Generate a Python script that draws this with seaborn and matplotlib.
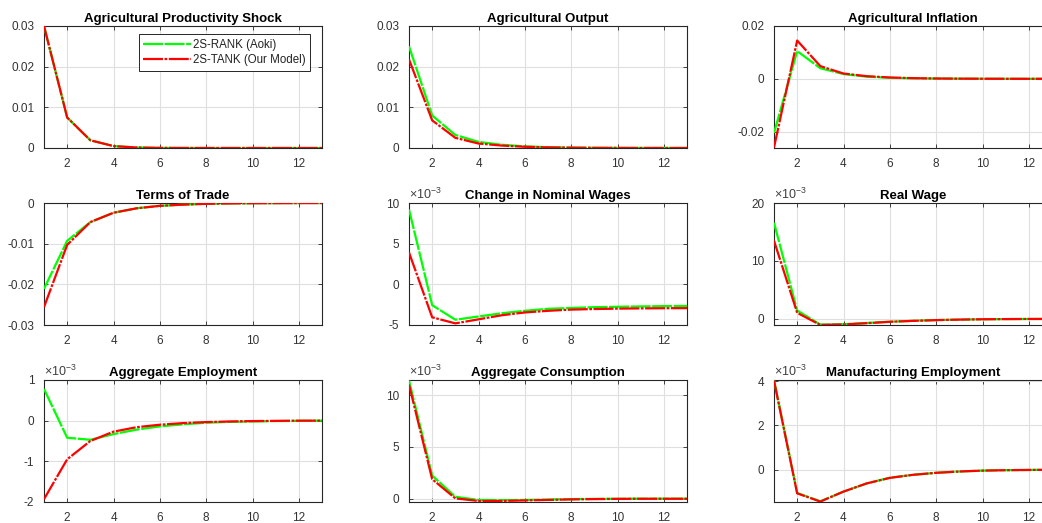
import matplotlib
matplotlib.use("Agg")
import matplotlib.pyplot as plt
import seaborn as sns
import pandas as pd
from matplotlib.ticker import FuncFormatter, FixedLocator

# ---------------- data ----------------
periods = list(range(1, 14))
series_names = ["2S-RANK (Aoki)", "2S-TANK (Our Model)"]

shock_rank = [0.0300, 0.0075, 0.0019, 0.00047, 0.00012, 0.00003, 0.00001, 0, 0, 0, 0, 0, 0]
shock_tank = [0.0300, 0.0075, 0.0019, 0.00047, 0.00012, 0.00003, 0.00001, 0, 0, 0, 0, 0, 0]

agout_rank = [0.0250, 0.0080, 0.0032, 0.0015, 0.0008, 0.0004, 0.0002, 0.0001, 0.00005, 0.00003, 0.00002, 0.00001, 0.00001]
agout_tank = [0.0218, 0.0068, 0.0025, 0.0011, 0.0006, 0.0003, 0.00015, 0.00008, 0.00004, 0.00002, 0.00001, 0.00001, 0.0]

infl_rank = [-0.0205, 0.0105, 0.0040, 0.0018, 0.0008, 0.0004, 0.0002, 0.0001, 0.00005, 0.00002, 0.00001, 0, 0]
infl_tank = [-0.0260, 0.0145, 0.0048, 0.0020, 0.0010, 0.0005, 0.00025, 0.00012, 0.00006, 0.00003, 0.00001, 0, 0]

tot_rank = [-0.0211, -0.0093, -0.0047, -0.0024, -0.0013, -0.0007, -0.0004, -0.0002, -0.0001, -0.00005, -0.00003, -0.00001, 0]
tot_tank = [-0.0256, -0.0103, -0.0047, -0.0024, -0.0013, -0.0007, -0.0004, -0.0002, -0.0001, -0.00005, -0.00003, -0.00001, 0]

nwage_rank = [9.2e-3, -2.6e-3, -4.4e-3, -4.0e-3, -3.6e-3, -3.3e-3, -3.05e-3, -2.95e-3, -2.85e-3, -2.8e-3, -2.76e-3, -2.72e-3, -2.7e-3]
nwage_tank = [3.9e-3, -4.1e-3, -4.85e-3, -4.35e-3, -3.85e-3, -3.5e-3, -3.3e-3, -3.15e-3, -3.08e-3, -3.03e-3, -3.0e-3, -2.98e-3, -2.97e-3]

rwage_rank = [16.6e-3, 1.45e-3, -0.98e-3, -0.92e-3, -0.7e-3, -0.48e-3, -0.33e-3, -0.2e-3, -0.12e-3, -0.06e-3, -0.03e-3, -0.01e-3, 0]
rwage_tank = [13.5e-3, 1.05e-3, -1.04e-3, -0.95e-3, -0.74e-3, -0.5e-3, -0.34e-3, -0.21e-3, -0.12e-3, -0.06e-3, -0.03e-3, -0.01e-3, 0]

emp_rank = [0.78e-3, -0.42e-3, -0.47e-3, -0.33e-3, -0.22e-3, -0.14e-3, -0.09e-3, -0.05e-3, -0.03e-3, -0.02e-3, -0.01e-3, -0.005e-3, 0]
emp_tank = [-1.93e-3, -0.95e-3, -0.50e-3, -0.27e-3, -0.16e-3, -0.10e-3, -0.06e-3, -0.035e-3, -0.02e-3, -0.01e-3, -0.005e-3, 0, 0]

cons_rank = [11.4e-3, 2.25e-3, 0.2e-3, -0.1e-3, -0.12e-3, -0.1e-3, -0.06e-3, -0.02e-3, 0.0, 0.01e-3, 0.02e-3, 0.02e-3, 0.02e-3]
cons_tank = [11.0e-3, 1.9e-3, 0.05e-3, -0.2e-3, -0.2e-3, -0.15e-3, -0.1e-3, -0.05e-3, -0.02e-3, 0.0, 0.01e-3, 0.01e-3, 0.01e-3]

manemp_rank = [4.05e-3, -1.06e-3, -1.44e-3, -1.0e-3, -0.63e-3, -0.37e-3, -0.24e-3, -0.15e-3, -0.09e-3, -0.05e-3, -0.03e-3, -0.02e-3, -0.01e-3]
manemp_tank = [4.02e-3, -1.08e-3, -1.45e-3, -1.0e-3, -0.63e-3, -0.38e-3, -0.24e-3, -0.15e-3, -0.09e-3, -0.05e-3, -0.03e-3, -0.02e-3, -0.01e-3]

titles = ["Agricultural Productivity Shock", "Agricultural Output", "Agricultural Inflation",
          "Terms of Trade", "Change in Nominal Wages", "Real Wage",
          "Aggregate Employment", "Aggregate Consumption", "Manufacturing Employment"]
x_ticks = [2, 4, 6, 8, 10, 12]

# ---------------- style ----------------
sns.set_theme(style="ticks")
plt.rcParams["font.family"] = ["Liberation Sans", "DejaVu Sans"]
plt.rcParams["mathtext.fontset"] = "custom"
plt.rcParams["mathtext.rm"] = "Liberation Sans"
plt.rcParams["mathtext.it"] = "Liberation Sans"

W, H = 1042, 523
fig = plt.figure(figsize=(W / 100, H / 100), dpi=100)
fig.patch.set_facecolor("white")

col_left = [44, 409, 774]
col_width = 278
row_top = [26, 203, 380]
row_height = 122

panels = [
    (shock_rank, shock_tank, (0, 0.03), [0, 0.01, 0.02, 0.03], False),
    (agout_rank, agout_tank, (0, 0.03), [0, 0.01, 0.02, 0.03], False),
    (infl_rank, infl_tank, (-0.0262, 0.02), [-0.02, 0, 0.02], False),
    (tot_rank, tot_tank, (-0.03, 0), [-0.03, -0.02, -0.01, 0], False),
    (nwage_rank, nwage_tank, (-5.05e-3, 10e-3), [-5e-3, 0, 5e-3, 10e-3], True),
    (rwage_rank, rwage_tank, (-1.05e-3, 20e-3), [0, 10e-3, 20e-3], True),
    (emp_rank, emp_tank, (-2e-3, 1e-3), [-2e-3, -1e-3, 0, 1e-3], True),
    (cons_rank, cons_tank, (-0.3e-3, 11.45e-3), [0, 5e-3, 10e-3], True),
    (manemp_rank, manemp_tank, (-1.47e-3, 4.05e-3), [0, 2e-3, 4e-3], True),
]

axis_color = "#262626"
grid_color = "#dfdfdf"

for i, (rank, tank, ylim, yticks, sci) in enumerate(panels):
    r, c = divmod(i, 3)
    left = col_left[c] / W
    bottom = 1 - (row_top[r] + row_height) / H
    ax = fig.add_axes([left, bottom, col_width / W, row_height / H])
    ax.set_facecolor("white")

    df = pd.DataFrame({
        "period": periods * 2,
        "value": list(rank) + list(tank),
        "model": [series_names[0]] * len(periods) + [series_names[1]] * len(periods),
    })
    sns.lineplot(data=df[df["model"] == series_names[0]], x="period", y="value",
                 color=(0, 1, 0), linewidth=1.6, linestyle=(0, (9, 0.7)),
                 label=series_names[0], ax=ax, zorder=3)
    sns.lineplot(data=df[df["model"] == series_names[1]], x="period", y="value",
                 color=(1, 0, 0), linewidth=1.6, linestyle=(0, (9, 0.7, 1.2, 0.7)),
                 label=series_names[1], ax=ax, zorder=4)

    ax.set_xlim(1, 13)
    ax.set_ylim(*ylim)
    ax.xaxis.set_major_locator(FixedLocator(x_ticks))
    ax.yaxis.set_major_locator(FixedLocator(yticks))
    if sci:
        ax.yaxis.set_major_formatter(FuncFormatter(lambda v, p: f"{round(v * 1e3, 6):g}"))
        ax.text(0.0, 1.012, r"$\times10^{-3}$", transform=ax.transAxes, ha="left", va="bottom",
                fontsize=9, color="#404040")
    else:
        ax.yaxis.set_major_formatter(FuncFormatter(lambda v, p: f"{round(v, 8):g}"))

    ax.set_xlabel("")
    ax.set_ylabel("")
    ax.grid(True, color=grid_color, linewidth=0.8)
    ax.set_axisbelow(True)
    for sp in ax.spines.values():
        sp.set_visible(True)
        sp.set_color(axis_color)
        sp.set_linewidth(0.8)
    ax.tick_params(direction="in", top=True, right=True, length=3, width=0.6,
                   colors=axis_color, labelsize=8.5, labelcolor="#333333")
    ax.tick_params(axis="y", pad=7)
    ax.tick_params(axis="x", pad=7)
    ax.set_title(titles[i], fontsize=9.5, fontweight="bold", color="black", pad=3)

    if i == 0:
        leg = ax.legend(loc="upper right", bbox_to_anchor=(0.957, 0.934), borderaxespad=0,
                        fontsize=8.3, handlelength=4.1, frameon=True, fancybox=False,
                        framealpha=1, edgecolor=axis_color, borderpad=0.4,
                        labelspacing=0.3, handletextpad=0.2)
        leg.get_frame().set_linewidth(0.7)
        for t in leg.get_texts():
            t.set_color("#222222")
    else:
        lg = ax.get_legend()
        if lg is not None:
            lg.remove()

fig.savefig("out.png", dpi=100, facecolor="white")
